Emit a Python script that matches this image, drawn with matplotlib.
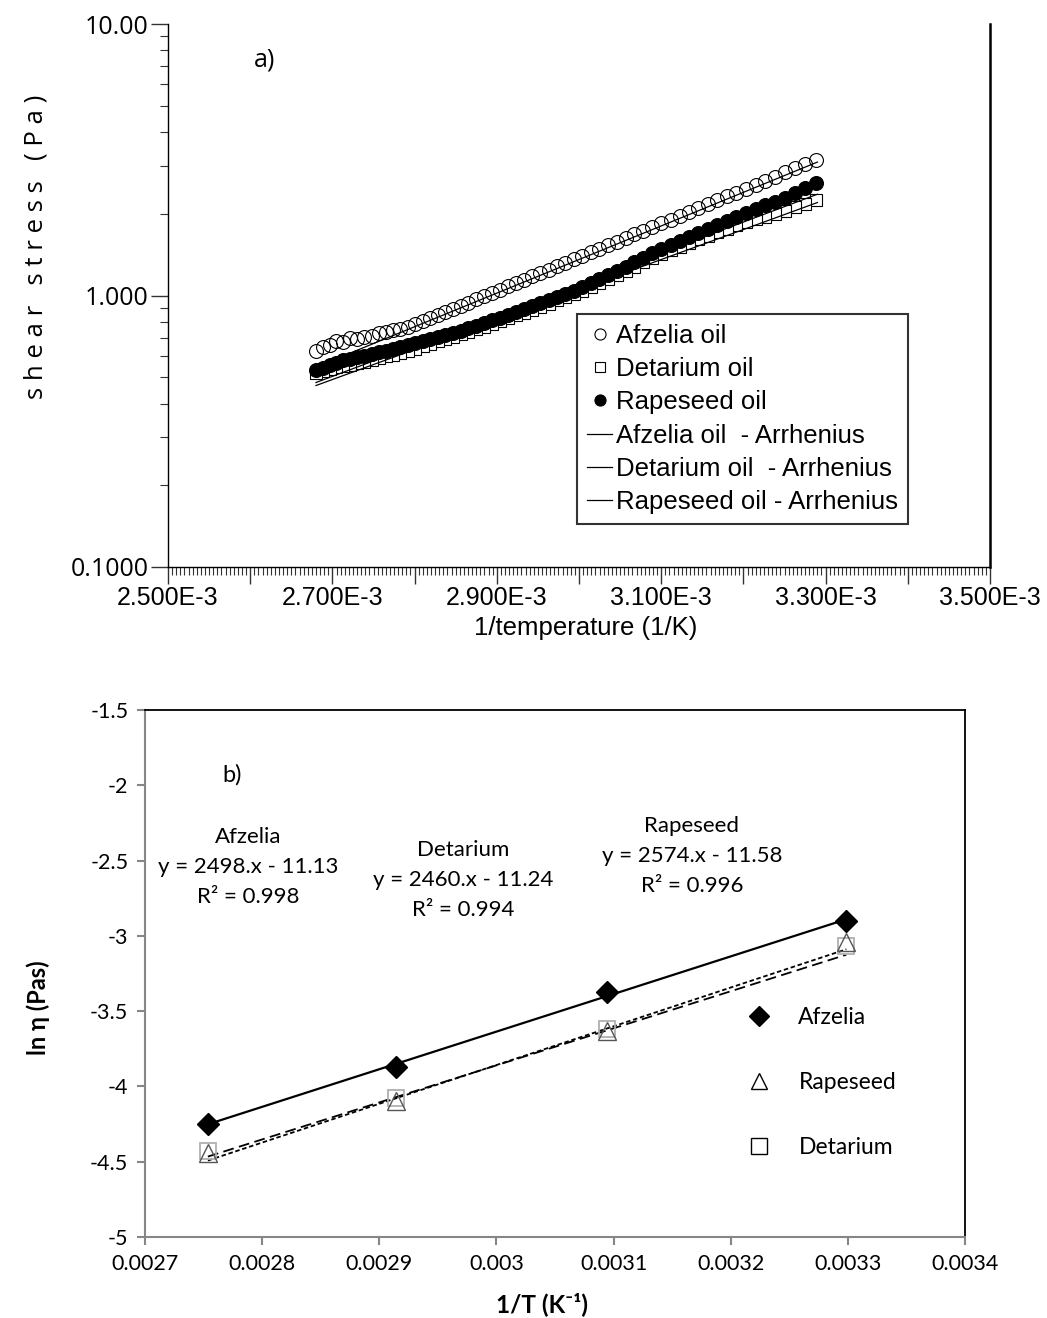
import matplotlib
matplotlib.use('Agg')
import matplotlib.pyplot as plt
import numpy as np
from matplotlib.ticker import FixedLocator, MultipleLocator, NullFormatter, FuncFormatter, LogLocator
from matplotlib.lines import Line2D

# ---------------- data: panel a ----------------
temps_c = [31.0, 32.15, 33.3, 34.45, 35.6, 36.75, 37.9, 39.05, 40.2, 41.35, 42.5, 43.65,
           44.8, 45.95, 47.1, 48.25, 49.4, 50.55, 51.7, 52.85, 54.0, 55.15, 56.3, 57.45,
           58.6, 59.75, 60.9, 62.05, 63.2, 64.35, 65.5, 66.65, 67.8, 68.95, 70.1, 71.25,
           72.4, 73.55, 74.7, 75.85, 77.0, 78.15, 79.3, 80.45, 81.6, 82.75, 83.9, 85.05,
           86.2, 87.35, 88.5, 89.65, 90.8, 91.95, 93.1, 94.25, 95.4, 96.55, 97.7, 98.85, 100.0]
afzelia = [3.156, 3.046, 2.941, 2.840, 2.743, 2.651, 2.561, 2.476, 2.394, 2.316, 2.240, 2.168,
           2.098, 2.031, 1.967, 1.905, 1.845, 1.788, 1.733, 1.680, 1.629, 1.580, 1.533, 1.487,
           1.443, 1.401, 1.360, 1.321, 1.283, 1.246, 1.211, 1.177, 1.144, 1.112, 1.081, 1.051,
           1.023, 0.995, 0.968, 0.942, 0.917, 0.893, 0.870, 0.847, 0.825, 0.804, 0.783, 0.765,
           0.755, 0.748, 0.735, 0.730, 0.712, 0.705, 0.690, 0.700, 0.675, 0.680, 0.655, 0.645, 0.627]
detarium = [2.240, 2.170, 2.110, 2.045, 1.998, 1.952, 1.907, 1.862, 1.812, 1.761, 1.710, 1.659,
            1.609, 1.562, 1.515, 1.468, 1.421, 1.373, 1.325, 1.277, 1.229, 1.186, 1.150, 1.114,
            1.079, 1.043, 1.013, 0.987, 0.960, 0.934, 0.908, 0.885, 0.864, 0.844, 0.823, 0.803,
            0.785, 0.768, 0.752, 0.736, 0.720, 0.705, 0.691, 0.677, 0.663, 0.650, 0.636, 0.626,
            0.616, 0.606, 0.597, 0.587, 0.578, 0.571, 0.564, 0.557, 0.551, 0.544, 0.536, 0.526, 0.517]
rapeseed = [2.600, 2.490, 2.390, 2.290, 2.218, 2.151, 2.083, 2.017, 1.951, 1.886, 1.821, 1.757,
            1.696, 1.642, 1.588, 1.535, 1.481, 1.429, 1.376, 1.324, 1.272, 1.226, 1.187, 1.149,
            1.111, 1.074, 1.043, 1.017, 0.990, 0.964, 0.938, 0.914, 0.893, 0.871, 0.849, 0.828,
            0.809, 0.792, 0.775, 0.758, 0.741, 0.726, 0.713, 0.702, 0.690, 0.678, 0.666, 0.656,
            0.646, 0.636, 0.627, 0.617, 0.608, 0.599, 0.595, 0.582, 0.578, 0.565, 0.555, 0.542, 0.530]
fit_x = [2.68e-3, 3.29e-3]
afzelia_fit = [0.545, 3.10]
detarium_fit = [0.466, 2.20]
rapeseed_fit = [0.478, 2.36]
legend_a = ['Afzelia oil', 'Detarium oil', 'Rapeseed oil',
            'Afzelia oil  - Arrhenius', 'Detarium oil  - Arrhenius', 'Rapeseed oil - Arrhenius']
ytick_a = [0.1, 1.0, 10.0]
ytick_a_labels = ['0.1000', '1.000', '10.00']

# ---------------- data: panel b ----------------
temps_b_c = [90, 70, 50, 30]
ln_afzelia = [-4.25, -3.87, -3.37, -2.90]
ln_rapeseed = [-4.44, -4.10, -3.63, -3.04]
ln_detarium = [-4.43, -4.08, -3.62, -3.07]
slopes = {'Afzelia': 2498, 'Detarium': 2460, 'Rapeseed': 2574}
intercepts = {'Afzelia': -11.13, 'Detarium': -11.24, 'Rapeseed': -11.58}
r2 = {'Afzelia': 0.998, 'Detarium': 0.994, 'Rapeseed': 0.996}
xticks_b = [0.0027, 0.0028, 0.0029, 0.003, 0.0031, 0.0032, 0.0033, 0.0034]
xtick_b_labels = ['0.0027', '0.0028', '0.0029', '0.003', '0.0031', '0.0032', '0.0033', '0.0034']
yticks_b = [-5, -4.5, -4, -3.5, -3, -2.5, -2, -1.5]
ytick_b_labels = ['-5', '-4.5', '-4', '-3.5', '-3', '-2.5', '-2', '-1.5']

W, H = 1047, 1318
fig = plt.figure(figsize=(W / 100, H / 100), dpi=100)

def fx(px):
    return px / W

def fy(py):
    return 1 - py / H

ARIAL = 'Liberation Sans'
CAL = 'Lato'

# ================= panel a =================
ax1 = fig.add_axes([fx(168), fy(567), fx(990) - fx(168), fy(24) - fy(567)])
xa = 1.0 / (np.array(temps_c) + 273.15)
h_det, = ax1.plot(xa, detarium, ls='none', marker='s', ms=9, mfc='white', mec='black', mew=0.8)
h_rap, = ax1.plot(xa, rapeseed, ls='none', marker='o', ms=10, mfc='black', mec='black', mew=0.8)
h_afz, = ax1.plot(xa, afzelia, ls='none', marker='o', ms=10, mfc='none', mec='black', mew=0.8)
h_afz_f, = ax1.plot(fit_x, afzelia_fit, color='black', lw=0.9)
h_det_f, = ax1.plot(fit_x, detarium_fit, color='black', lw=0.9)
h_rap_f, = ax1.plot(fit_x, rapeseed_fit, color='black', lw=0.9)

ax1.set_yscale('log')
ax1.set_ylim(0.1, 10)
ax1.set_xlim(2.5e-3, 3.5e-3)
ax1.spines['top'].set_visible(False)
ax1.spines['left'].set_linewidth(1.0)
ax1.spines['bottom'].set_linewidth(1.0)
ax1.spines['right'].set_linewidth(1.8)
ax1.yaxis.set_major_locator(FixedLocator(ytick_a))
ax1.yaxis.set_major_formatter(FuncFormatter(lambda v, p: ytick_a_labels[ytick_a.index(min(ytick_a, key=lambda t: abs(np.log10(t) - np.log10(v))))]))
ax1.yaxis.set_minor_locator(LogLocator(base=10, subs=np.arange(2, 10)))
ax1.yaxis.set_minor_formatter(NullFormatter())
ax1.xaxis.set_major_locator(MultipleLocator(0.1e-3))
ax1.xaxis.set_minor_locator(MultipleLocator(0.005e-3))

def xfmt(v, p):
    k = int(round(v * 1e4))
    if k % 2 == 1:
        return '%.3fE-3' % (v * 1e3)
    return ''
ax1.xaxis.set_major_formatter(FuncFormatter(xfmt))
ax1.tick_params(axis='both', which='major', direction='out', length=12, width=1.0, color='#333333')
ax1.tick_params(axis='both', which='minor', direction='out', length=6, width=0.8, color='#333333')
ax1.tick_params(axis='x', which='major', labelsize=18, pad=2)
ax1.tick_params(axis='y', which='major', labelsize=18, pad=2)
for lab in ax1.get_xticklabels():
    lab.set_family(ARIAL)
for lab in ax1.get_yticklabels():
    lab.set_family('Open Sans')

leg = fig.legend([h_afz, h_det, h_rap, h_afz_f, h_det_f, h_rap_f], legend_a,
                 loc='upper left', bbox_to_anchor=(fx(577), fy(314)), bbox_transform=fig.transFigure,
                 prop={'family': ARIAL, 'size': 18.5}, frameon=True, fancybox=False,
                 edgecolor='black', handlelength=1.0, handletextpad=0.15,
                 borderpad=0.38, labelspacing=0.36, borderaxespad=0, markerscale=0.8)
leg.get_frame().set_linewidth(1.5)

fig.text(fx(265), fy(60), 'a)', fontsize=18, family='Open Sans', ha='center', va='center')
fig.text(fx(36), fy(247), 's h e a r   s t r e s s   ( P a )', fontsize=18.5, family='Open Sans',
         rotation=90, ha='center', va='center')
fig.text(fx(586), fy(628), '1/temperature (1/K)', fontsize=18.5, family=ARIAL, ha='center', va='center')

# ================= panel b =================
ax2 = fig.add_axes([fx(145), fy(1237), fx(965) - fx(145), fy(710) - fy(1237)])
xb = 1.0 / (np.array(temps_b_c) + 273.15)
xfit = np.array([xb.min(), xb.max()])
ax2.plot(xfit, slopes['Afzelia'] * xfit + intercepts['Afzelia'], color='black', lw=1.6)
ax2.plot(xfit, slopes['Rapeseed'] * xfit + intercepts['Rapeseed'], color='black', lw=1.3, ls=(0, (2.5, 1.5)))
ax2.plot(xfit, slopes['Detarium'] * xfit + intercepts['Detarium'], color='black', lw=1.3, ls=(0, (6, 3)))
ax2.plot(xb, ln_detarium, ls='none', marker='s', ms=12, mfc='none', mec='#b0b0b0', mew=1.3)
ax2.plot(xb, ln_rapeseed, ls='none', marker='^', ms=13, mfc='none', mec='#555555', mew=1.0)
ax2.plot(xb, ln_afzelia, ls='none', marker='D', ms=11, mfc='black', mec='black')

ax2.set_xlim(0.0027, 0.0034)
ax2.set_ylim(-5, -1.5)
ax2.set_xticks(xticks_b)
ax2.set_xticklabels(xtick_b_labels)
ax2.set_yticks(yticks_b)
ax2.set_yticklabels(ytick_b_labels)
ax2.tick_params(axis='both', direction='out', length=6, width=1.5, color='#868686', labelsize=15.5, pad=6)
for lab in ax2.get_xticklabels() + ax2.get_yticklabels():
    lab.set_family(CAL)
for s in ['left', 'bottom']:
    ax2.spines[s].set_color('#868686')
    ax2.spines[s].set_linewidth(1.5)
for s in ['top', 'right']:
    ax2.spines[s].set_color('black')
    ax2.spines[s].set_linewidth(1.3)

hb = [Line2D([], [], ls='none', marker='D', ms=10, mfc='black', mec='black'),
      Line2D([], [], ls='none', marker='^', ms=12, mfc='none', mec='black', mew=1.0),
      Line2D([], [], ls='none', marker='s', ms=11, mfc='none', mec='black', mew=1.0)]
fig.legend(hb, ['Afzelia', 'Rapeseed', 'Detarium'], loc='upper left',
           bbox_to_anchor=(fx(748), fy(1007)), bbox_transform=fig.transFigure,
           frameon=False, prop={'family': CAL, 'size': 16.5}, handlelength=1.0,
           handletextpad=1.2, labelspacing=1.93, borderaxespad=0, borderpad=0)

fig.text(fx(232), fy(775), 'b)', fontsize=17, family=CAL, ha='center', va='center')
for name, cx, cy in [('Afzelia', 248, 867), ('Detarium', 463, 880), ('Rapeseed', 692, 856)]:
    txt = '%s\ny = %d.x - %.2f\nR² = %.3f' % (name, slopes[name], -intercepts[name], r2[name])
    fig.text(fx(cx), fy(cy), txt, fontsize=16, family=CAL, ha='center', va='center',
             multialignment='center', linespacing=1.65)

fig.text(fx(38), fy(1008), 'ln η (Pas)', fontsize=17, family=[CAL, 'DejaVu Sans'], fontweight='bold',
         rotation=90, ha='center', va='center')
fig.text(fx(542), fy(1304), '1/T (K⁻¹)', fontsize=17.5, family=[CAL, 'DejaVu Sans'], fontweight='bold',
         ha='center', va='center')

fig.savefig('out.png', dpi=100)
